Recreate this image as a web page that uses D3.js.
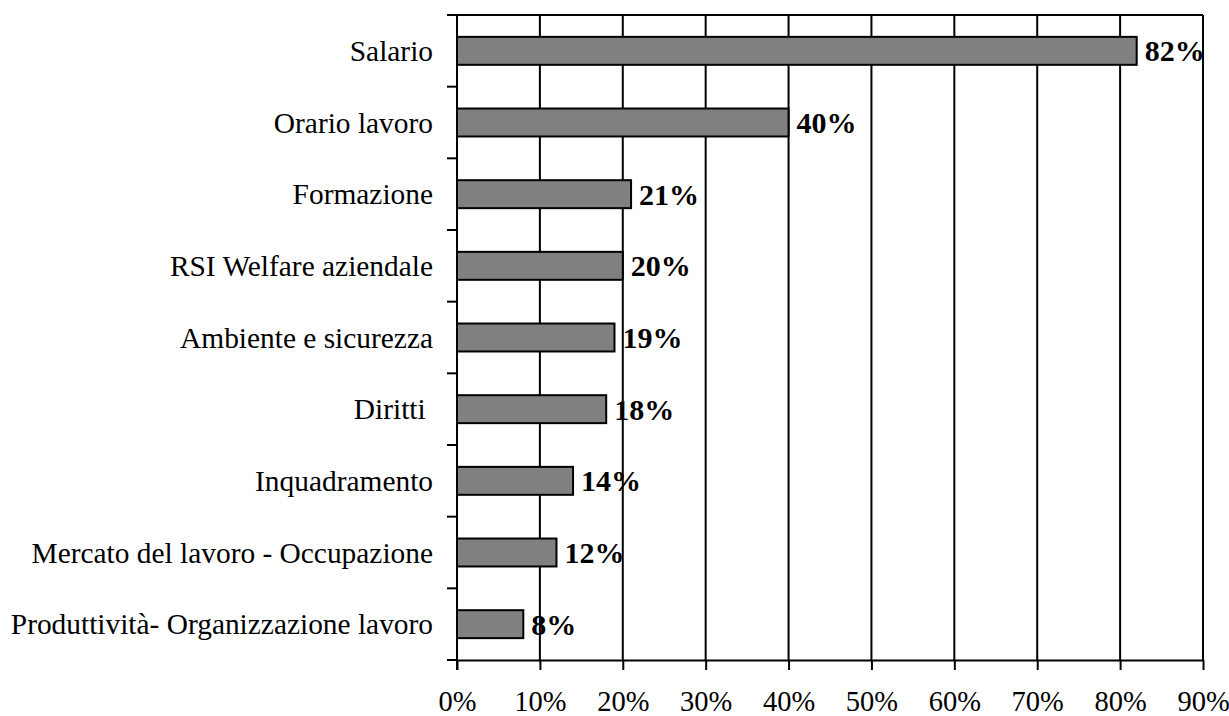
<!DOCTYPE html>
<html>
<head>
<meta charset="utf-8">
<script src="https://cdn.jsdelivr.net/npm/d3@7"></script>
<style>
  body { margin: 0; background: #fff; }
  svg text { font-family: "Liberation Serif", "Times New Roman", serif; }
</style>
</head>
<body>
<div id="chart"></div>
<script>
// categorie e valori (%)
const categorie = [
    "Salario",
    "Orario lavoro",
    "Formazione",
    "RSI Welfare aziendale",
    "Ambiente e sicurezza",
    "Diritti ",
    "Inquadramento",
    "Mercato del lavoro - Occupazione",
    "Produttività- Organizzazione lavoro"
];
const valori = [82, 40, 21, 20, 19, 18, 14, 12, 8];
const tickValori = [0, 10, 20, 30, 40, 50, 60, 70, 80, 90];

const svgWidth = 1229, svgHeight = 716;
const margin = { top: 15, right: 26, bottom: 56, left: 457 };
const width = svgWidth - margin.left - margin.right;
const height = svgHeight - margin.top - margin.bottom;

const svg = d3.select("#chart")
    .append("svg")
    .attr("width", svgWidth)
    .attr("height", svgHeight)
    .append("g")
    .attr("transform", `translate(${margin.left},${margin.top})`);

const xScale = d3.scaleLinear().domain([0, 90]).range([0, width]);
const yScale = d3.scaleBand().domain(categorie).range([0, height]).paddingInner(0.61).paddingOuter(0.305);
const yBand = d3.scaleBand().domain(categorie).range([0, height]);

// griglia verticale
svg.selectAll(".grid")
    .data(tickValori.slice(1))
    .enter()
    .append("line")
    .attr("x1", d => xScale(d))
    .attr("x2", d => xScale(d))
    .attr("y1", 0)
    .attr("y2", height)
    .style("stroke", "#000")
    .style("stroke-width", 2);

// bordo superiore
svg.append("line")
    .attr("x1", 0).attr("x2", width)
    .attr("y1", 0).attr("y2", 0)
    .style("stroke", "#000")
    .style("stroke-width", 2);

// barre
svg.selectAll(".bar")
    .data(valori)
    .enter()
    .append("rect")
    .attr("x", 0)
    .attr("y", (d, i) => yScale(categorie[i]))
    .attr("width", d => xScale(d))
    .attr("height", yScale.bandwidth())
    .style("fill", "#808080")
    .style("stroke", "#000")
    .style("stroke-width", 2);

// etichette valori
svg.selectAll(".lbl")
    .data(valori)
    .enter()
    .append("text")
    .attr("x", d => xScale(d) + 8)
    .attr("y", (d, i) => yScale(categorie[i]) + yScale.bandwidth() / 2)
    .attr("dy", "0.35em")
    .attr("font-size", "30px")
    .attr("font-weight", "bold")
    .text(d => `${d}%`);

// asse X
const xAxis = svg.append("g")
    .attr("transform", `translate(0,${height})`)
    .call(d3.axisBottom(xScale).tickValues(tickValori).tickFormat(d => `${d}%`).tickSize(10).tickSizeOuter(0));
xAxis.select(".domain").style("stroke-width", 2);
xAxis.selectAll(".tick line").style("stroke-width", 2);
xAxis.selectAll("text")
    .attr("y", 51)
    .attr("dy", 0)
    .attr("font-size", "28.5px")
    .style("font-family", "Liberation Serif");

// asse Y
const yAxis = svg.append("g");
yAxis.append("line")
    .attr("x1", 0).attr("x2", 0)
    .attr("y1", 0).attr("y2", height + 10)
    .style("stroke", "#000")
    .style("stroke-width", 2);
yAxis.selectAll(".ytick")
    .data(categorie)
    .enter()
    .append("line")
    .attr("x1", -10).attr("x2", 0)
    .attr("y1", d => yBand(d))
    .attr("y2", d => yBand(d))
    .style("stroke", "#000")
    .style("stroke-width", 2);
yAxis.append("line")
    .attr("x1", -10).attr("x2", 0)
    .attr("y1", height).attr("y2", height)
    .style("stroke", "#000")
    .style("stroke-width", 2);
yAxis.selectAll(".ylbl")
    .data(categorie)
    .enter()
    .append("text")
    .attr("x", -24)
    .attr("y", d => yBand(d) + yBand.bandwidth() / 2)
    .attr("dy", "0.35em")
    .attr("text-anchor", "end")
    .attr("font-size", "29.4px")
    .style("white-space", "pre")
    .text(d => d);
</script>
</body>
</html>
